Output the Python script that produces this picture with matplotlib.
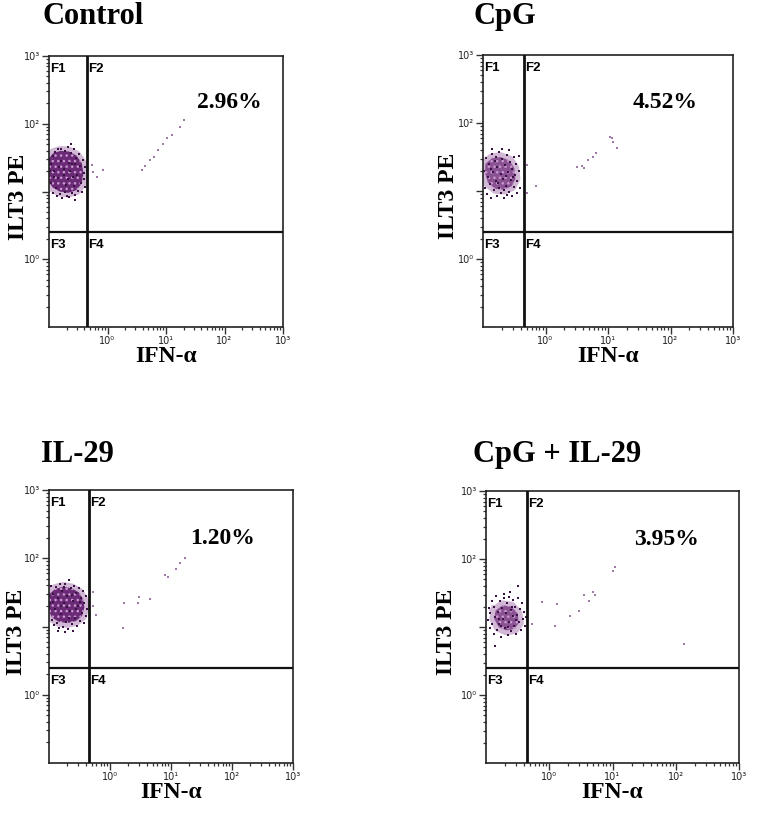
import numpy as np
import matplotlib.pyplot as plt
from matplotlib.ticker import FixedLocator, FixedFormatter, LogLocator, NullFormatter

# panel names and gated percentages
titles = ['Control', 'CpG', 'IL-29', 'CpG + IL-29']
percents = ['2.96%', '4.52%', '1.20%', '3.95%']

# quadrant gates (IFN-a, ILT3)
gate_x = 0.45
gate_y = 2.5

# dense core of the main population, outline in log10 units
blob_lx = [
    [-1.00, -0.92, -0.80, -0.66, -0.53, -0.44, -0.41, -0.44, -0.53, -0.67, -0.82, -0.94, -1.00],
    [-0.96, -0.86, -0.72, -0.58, -0.50, -0.48, -0.54, -0.66, -0.80, -0.92, -0.97],
    [-1.00, -0.90, -0.77, -0.63, -0.51, -0.44, -0.42, -0.46, -0.56, -0.70, -0.84, -0.95, -1.00],
    [-0.85, -0.74, -0.60, -0.50, -0.48, -0.55, -0.68, -0.80, -0.87],
]
blob_ly = [
    [1.50, 1.57, 1.60, 1.59, 1.53, 1.42, 1.27, 1.12, 1.02, 0.98, 1.00, 1.06, 1.14],
    [1.40, 1.48, 1.50, 1.45, 1.34, 1.18, 1.07, 1.02, 1.03, 1.12, 1.27],
    [1.47, 1.55, 1.58, 1.56, 1.50, 1.40, 1.28, 1.15, 1.08, 1.05, 1.07, 1.13, 1.22],
    [1.24, 1.32, 1.30, 1.20, 1.06, 0.97, 0.95, 1.00, 1.12],
]

# events around the main population (log10 units)
dots = [
    [(-0.97, 1.40), (-0.96, 1.12), (-0.94, 1.52), (-0.93, 0.98), (-0.91, 1.30), (-0.90, 1.58), (-0.88, 1.05),
     (-0.87, 0.93), (-0.85, 1.62), (-0.84, 1.20), (-0.82, 0.96), (-0.80, 1.45), (-0.79, 1.63), (-0.77, 0.90),
     (-0.75, 1.33), (-0.73, 1.60), (-0.72, 1.00), (-0.70, 0.94), (-0.68, 1.66), (-0.67, 1.18), (-0.65, 0.92),
     (-0.63, 1.57), (-0.61, 1.40), (-0.60, 0.98), (-0.58, 1.62), (-0.57, 1.08), (-0.55, 0.95), (-0.53, 1.50),
     (-0.52, 1.25), (-0.50, 1.01), (-0.48, 1.56), (-0.47, 1.38), (-0.45, 1.12), (-0.44, 0.99), (-0.42, 1.47),
     (-0.41, 1.28), (-0.40, 1.18), (-0.39, 1.06), (-0.38, 1.36), (-0.62, 1.70), (-0.55, 0.88), (-0.92, 1.22),
     (-0.98, 1.30), (-0.74, 1.25), (-0.66, 1.42), (-0.59, 1.22), (-0.83, 1.36), (-0.71, 1.10), (-0.64, 1.30),
     (-0.56, 1.40)],
    [(-0.98, 1.30), (-0.97, 1.05), (-0.95, 1.48), (-0.93, 0.95), (-0.92, 1.20), (-0.90, 1.40), (-0.89, 1.10),
     (-0.87, 0.90), (-0.86, 1.55), (-0.84, 1.28), (-0.83, 1.02), (-0.81, 1.44), (-0.80, 1.15), (-0.78, 0.93),
     (-0.77, 1.36), (-0.75, 1.58), (-0.74, 1.05), (-0.72, 1.25), (-0.71, 0.97), (-0.69, 1.47), (-0.68, 1.18),
     (-0.66, 0.89), (-0.65, 1.38), (-0.63, 1.08), (-0.62, 1.53), (-0.60, 1.28), (-0.59, 0.99), (-0.57, 1.42),
     (-0.56, 1.16), (-0.54, 0.92), (-0.53, 1.33), (-0.51, 1.50), (-0.50, 1.06), (-0.49, 1.24), (-0.47, 1.40),
     (-0.46, 0.97), (-0.45, 1.14), (-0.43, 1.30), (-0.42, 1.52), (-0.41, 1.05), (-0.70, 1.62), (-0.58, 1.61),
     (-0.85, 1.62), (-0.76, 1.12), (-0.64, 1.22), (-0.88, 1.33), (-0.52, 1.20), (-0.67, 1.02), (-0.79, 1.50),
     (-0.61, 0.94)],
    [(-0.98, 1.35), (-0.97, 1.60), (-0.95, 1.10), (-0.94, 1.48), (-0.92, 1.02), (-0.90, 1.25), (-0.89, 1.58),
     (-0.87, 1.05), (-0.85, 1.42), (-0.84, 0.98), (-0.82, 1.62), (-0.80, 1.18), (-0.79, 1.52), (-0.77, 1.00),
     (-0.75, 1.35), (-0.74, 1.63), (-0.72, 1.07), (-0.70, 1.45), (-0.69, 0.96), (-0.67, 1.68), (-0.66, 1.22),
     (-0.64, 1.56), (-0.62, 1.03), (-0.61, 1.38), (-0.59, 1.60), (-0.57, 1.12), (-0.56, 1.49), (-0.54, 1.01),
     (-0.52, 1.30), (-0.51, 1.57), (-0.49, 1.08), (-0.48, 1.42), (-0.46, 1.20), (-0.44, 1.52), (-0.43, 1.05),
     (-0.42, 1.34), (-0.40, 1.15), (-0.39, 1.45), (-0.38, 1.26), (-0.86, 0.93), (-0.73, 0.92), (-0.60, 0.94),
     (-0.93, 1.36), (-0.81, 1.30), (-0.68, 1.12), (-0.55, 1.25), (-0.76, 1.58), (-0.63, 1.46), (-0.50, 1.36),
     (-0.71, 1.28)],
    [(-0.97, 1.10), (-0.96, 1.28), (-0.94, 0.98), (-0.93, 1.20), (-0.91, 1.38), (-0.90, 1.05), (-0.88, 0.90),
     (-0.87, 1.30), (-0.85, 1.15), (-0.84, 1.45), (-0.82, 0.95), (-0.81, 1.22), (-0.79, 1.05), (-0.78, 1.38),
     (-0.76, 0.86), (-0.75, 1.28), (-0.73, 1.12), (-0.72, 1.48), (-0.70, 0.98), (-0.69, 1.20), (-0.67, 1.35),
     (-0.66, 0.88), (-0.64, 1.08), (-0.63, 1.44), (-0.61, 1.25), (-0.60, 0.94), (-0.58, 1.16), (-0.57, 1.40),
     (-0.55, 1.02), (-0.54, 1.30), (-0.52, 0.90), (-0.51, 1.18), (-0.49, 1.42), (-0.48, 1.08), (-0.46, 1.26),
     (-0.45, 0.96), (-0.43, 1.35), (-0.42, 1.12), (-0.40, 1.22), (-0.38, 1.02), (-0.36, 1.15), (-0.50, 1.60),
     (-0.85, 0.72), (-0.62, 1.52), (-0.77, 1.02), (-0.59, 1.30), (-0.71, 1.42), (-0.53, 1.10), (-0.65, 1.00),
     (-0.80, 1.12)],
]

# scattered double positive events (linear values)
sparse_x = [
    [0.54, 0.57, 0.85, 0.47, 0.65, 3.85, 4.37, 5.33, 6.24, 7.38, 9.0, 10.3, 12.5, 17.3, 20.6],
    [0.50, 0.70, 0.51, 3.16, 3.8, 4.1, 4.8, 5.8, 6.4, 10.8, 11.5, 12.2, 13.8],
    [0.52, 0.60, 0.52, 1.7, 1.65, 2.9, 3.0, 4.6, 8.0, 8.8, 11.9, 14.0, 17.0],
    [0.53, 0.76, 1.31, 1.23, 2.13, 3.0, 3.5, 4.3, 4.9, 5.2, 10.3, 10.9, 136],
]
sparse_y = [
    [24.6, 19.6, 20.7, 41, 16.6, 20.7, 23.8, 29.2, 32.7, 41, 51, 61, 68, 90.6, 113],
    [24, 11.9, 9.2, 22.7, 23.2, 21.6, 28.6, 32, 36.6, 61.7, 59.6, 53, 42.5],
    [32, 14.7, 20, 21.9, 9.4, 21.9, 27.4, 25, 57, 52.5, 68.8, 84, 100],
    [11.1, 23.5, 21.8, 10.4, 14.5, 17.4, 29.6, 24.4, 33, 29.6, 67, 75.5, 5.6],
]

major = [1, 10, 100, 1000]
x_labels = ['10⁰', '10¹', '10²', '10³']
y_labels = ['10⁰', '', '10²', '10³']

W, H = 771, 827
fig = plt.figure(figsize=(W / 100, H / 100), dpi=100)
plt.rcParams['hatch.linewidth'] = 1.0


def box(x0, y0, x1, y1):
    return [x0 / W, 1 - y1 / H, (x1 - x0) / W, (y1 - y0) / H]


def at(x, y):
    return x / W, 1 - y / H


# pixel layout of the four plots
frames = [(49, 56, 283, 327), (483, 55, 733, 327), (49, 490, 293, 763), (486, 491, 739, 763)]
title_pos = [(43, 24), (473, 24), (41, 462), (473, 462)]
pct_pos = [(0.77, 0.827), (0.728, 0.824), (0.713, 0.824), (0.715, 0.82)]
ylab_x = [18, 448, 16, 446]
core_face = ['#6a2a76', '#8a5293', '#6a2a76', '#8a5293']

serif = 'Liberation Serif'
sans = 'Liberation Sans'

for i in range(4):
    x0, y0, x1, y1 = frames[i]
    ax = fig.add_axes(box(x0, y0, x1, y1))
    ax.set_xscale('log')
    ax.set_yscale('log')
    ax.set_xlim(0.1, 1000)
    ax.set_ylim(0.1, 1000)

    # soft rim then speckled core
    bx = 10 ** np.array(blob_lx[i] + blob_lx[i][:1])
    by = 10 ** np.array(blob_ly[i] + blob_ly[i][:1])
    ax.plot(bx, by, color='#8e4f98', lw=7, alpha=0.4, solid_joinstyle='round', zorder=1)
    ax.fill(bx, by, facecolor=core_face[i], edgecolor='#c99ad0', hatch='...', lw=0, zorder=1)

    d = np.array(dots[i])
    ax.scatter(10 ** d[:, 0], 10 ** d[:, 1], s=3, marker='s', color='#3a1344', linewidths=0, zorder=2)
    ax.scatter(sparse_x[i], sparse_y[i], s=3.5, marker='s', color='#a07aa6', linewidths=0, zorder=2)

    ax.axvline(gate_x, color='#111111', lw=2, zorder=3)
    ax.axhline(gate_y, color='#111111', lw=1.6, zorder=3)

    fkw = dict(fontsize=9.5, fontweight='bold', family=sans, textcoords='offset pixels', va='top', ha='left',
               zorder=4)
    ax.annotate('F1', (0.1, 1000), xytext=(1, -7), **fkw)
    ax.annotate('F2', (gate_x, 1000), xytext=(1, -7), **fkw)
    ax.annotate('F3', (0.1, gate_y), xytext=(1, -7), **fkw)
    ax.annotate('F4', (gate_x, gate_y), xytext=(1, -7), **fkw)

    ax.text(pct_pos[i][0], pct_pos[i][1], percents[i], transform=ax.transAxes, ha='center', va='center',
            fontsize=17, fontweight='bold', family=serif)

    for a in (ax.xaxis, ax.yaxis):
        a.set_major_locator(FixedLocator(major))
        a.set_minor_locator(LogLocator(base=10, subs=np.arange(2, 10)))
        a.set_minor_formatter(NullFormatter())
    ax.xaxis.set_major_formatter(FixedFormatter(x_labels))
    ax.yaxis.set_major_formatter(FixedFormatter(y_labels))
    ax.tick_params(which='major', length=5, width=1, color='#333333', labelsize=7, pad=1.5,
                   labelcolor='#222222')
    ax.tick_params(which='minor', length=2.5, width=0.9, color='#333333')
    for s in ax.spines.values():
        s.set_linewidth(1.2)
        s.set_color('#222222')

    tx, ty = title_pos[i]
    fig.text(*at(tx, ty), titles[i], fontsize=22, fontweight='bold', family=serif, ha='left', va='baseline')
    fig.text(*at((x0 + x1) / 2, y1 + 29), 'IFN-α', fontsize=17, fontweight='bold', family=serif,
             ha='center', va='center')
    fig.text(*at(ylab_x[i], (y0 + y1) / 2 + 5), 'ILT3 PE', fontsize=17, fontweight='bold', family=serif,
             ha='center', va='center', rotation=90)

fig.savefig('out.png', dpi=100)
